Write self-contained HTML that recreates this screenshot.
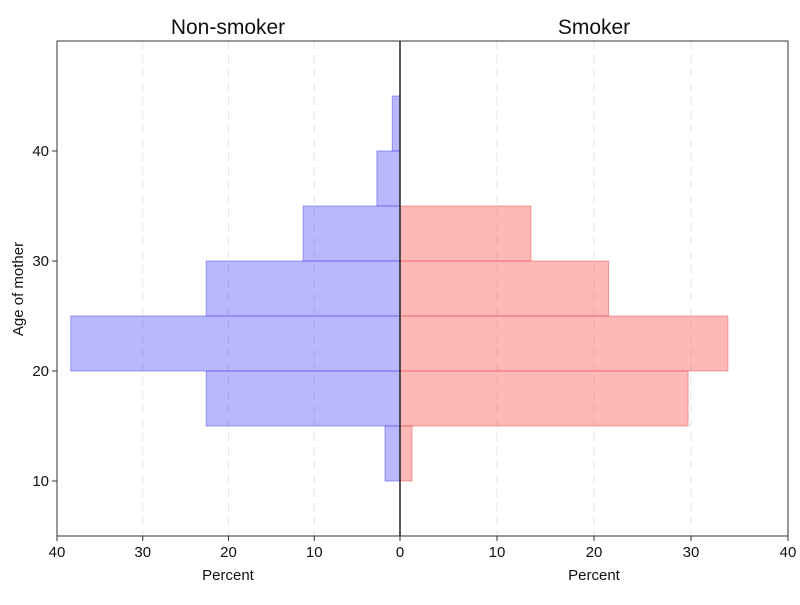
<!DOCTYPE html>
<html><head><meta charset="utf-8"><style>
body{margin:0;background:#fff;font-family:"Liberation Sans",Arial,sans-serif}
svg text{font-family:"Liberation Sans",Arial,sans-serif}
</style></head><body>
<svg id="c" width="800" height="600" xmlns="http://www.w3.org/2000/svg">
<rect x="0" y="0" width="800" height="600" fill="#fff"/>
</svg>
<script>
const bins=[10,15,20,25,30,35,40];
const nonSmoker=[1.75,22.6,38.4,22.6,11.3,2.7,0.9];
const smoker=[1.24,29.7,33.8,21.5,13.5,0,0];
const xTicks=[0,10,20,30,40];
const yTicks=[10,20,30,40];
const binW=5;
const NS='http://www.w3.org/2000/svg';
const svgEl=document.getElementById('c');
const yTop=41,yBot=536,cx=400,xLeft=57,xRight=788;
const yS=v=>yBot-(v-5)/(50-5)*(yBot-yTop);
const xL=v=>cx-v/40*(cx-xLeft);
const xR=v=>cx+v/40*(xRight-cx);
function mk(t,a,txt){const e=document.createElementNS(NS,t);for(const k in a)e.setAttribute(k,a[k]);if(txt!==undefined)e.textContent=txt;svgEl.appendChild(e);return e;}
xTicks.forEach(t=>{if(t===0)return;
 let g=mk('line',{x1:xL(t),x2:xL(t),y1:yTop,y2:yBot,stroke:'#e6e6e6','stroke-dasharray':'8,6'});
 
 
 g=mk('line',{x1:xR(t),x2:xR(t),y1:yTop,y2:yBot,stroke:'#e6e6e6','stroke-dasharray':'8,6'});
 
 
});
bins.forEach((b,i)=>{
 if(nonSmoker[i]>0){const r=mk('rect',{x:xL(nonSmoker[i]),y:yS(b+binW),width:cx-xL(nonSmoker[i]),height:yS(b)-yS(b+binW),fill:'rgba(0,0,255,0.28)',stroke:'rgba(80,80,230,0.5)'});
 
 }
 if(smoker[i]>0){const r=mk('rect',{x:cx,y:yS(b+binW),width:xR(smoker[i])-cx,height:yS(b)-yS(b+binW),fill:'rgba(255,0,0,0.28)',stroke:'rgba(230,80,80,0.5)'});
 
 }
});
let f=mk('rect',{x:xLeft,y:yTop,width:xRight-xLeft,height:yBot-yTop,fill:'none',stroke:'#333'});


let c=mk('line',{x1:cx,x2:cx,y1:yTop,y2:yBot,stroke:'#222','stroke-width':1.5});


xTicks.forEach(t=>{
 [[xL(t),'left'],[xR(t),'right']].forEach(([x,s])=>{
  if(t===0&&s==='right')return;
  const l=mk('line',{x1:x,x2:x,y1:yBot,y2:yBot+5,stroke:'#333'});
  
  
  const tx=mk('text',{x:x,y:yBot+21,'text-anchor':'middle','font-size':15,fill:'#111'},t);
  
  
 });
});
yTicks.forEach(t=>{
 const l=mk('line',{x1:xLeft-5,x2:xLeft,y1:yS(t),y2:yS(t),stroke:'#333'});
 
 
 const tx=mk('text',{x:xLeft-8,y:yS(t)+5,'text-anchor':'end','font-size':15,fill:'#111'},t);
 
 
});
let a=mk('text',{x:228,y:580,'text-anchor':'middle','font-size':15,fill:'#111'},'Percent');


a=mk('text',{x:594,y:580,'text-anchor':'middle','font-size':15,fill:'#111'},'Percent');


a=mk('text',{x:23,y:289,'text-anchor':'middle','font-size':15,fill:'#111',transform:'rotate(-90 23 289)'},'Age of mother');


a=mk('text',{x:228,y:34,'text-anchor':'middle','font-size':21,fill:'#111'},'Non-smoker');


a=mk('text',{x:594,y:34,'text-anchor':'middle','font-size':21,fill:'#111'},'Smoker');


</script>
</body></html>
